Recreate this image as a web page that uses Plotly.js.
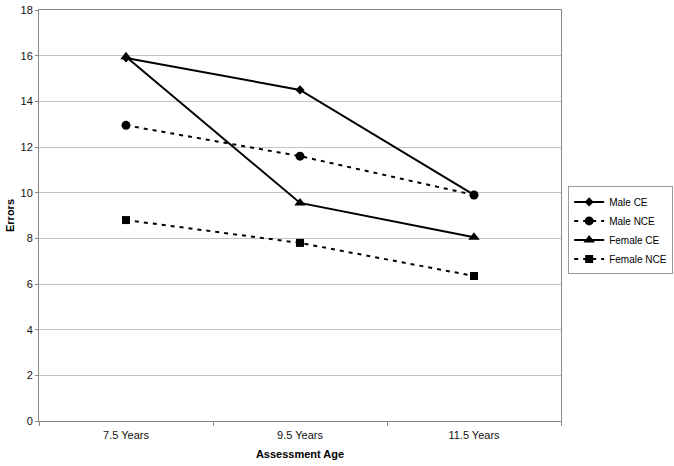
<!DOCTYPE html>
<html>
<head>
<meta charset="utf-8">
<script src="https://cdn.plot.ly/plotly-3.0.1.min.js"></script>
<style>html,body{margin:0;padding:0;background:#fff;}#chart{width:674px;height:466px;}</style>
</head>
<body>
<div id="chart"></div>
<script>
const categories = ["7.5 Years", "9.5 Years", "11.5 Years"];
const maleCE = [15.9, 14.5, 9.9];
const maleNCE = [12.95, 11.6, 9.9];
const femaleCE = [15.95, 9.55, 8.05];
const femaleNCE = [8.8, 7.8, 6.35];
const seriesNames = ["Male CE", "Male NCE", "Female CE", "Female NCE"];

const font = "Liberation Sans, Arial, sans-serif";
function tr(name, y, symbol, size, dash) {
  return {
    type: "scatter", mode: "lines+markers", name: name,
    x: categories, y: y,
    line: {color: "#000", width: 2, dash: dash},
    marker: {symbol: symbol, size: size, color: "#000"}
  };
}
const data = [
  tr(seriesNames[0], maleCE, "diamond", 7, "solid"),
  tr(seriesNames[1], maleNCE, "circle", 9, "4px,5px"),
  tr(seriesNames[2], femaleCE, "triangle-up", 10, "solid"),
  tr(seriesNames[3], femaleNCE, "square", 8, "4px,5px")
];
const layout = {
  width: 674, height: 466,
  margin: {l: 39, r: 113, t: 10, b: 45},
  paper_bgcolor: "#fff", plot_bgcolor: "#fff",
  font: {family: font, size: 11, color: "#000"},
  showlegend: true,
  legend: {xref: "container", yref: "container", x: 0.843, y: 0.6,
    xanchor: "left", yanchor: "top",
    itemwidth: 30,
    bordercolor: "#999", borderwidth: 1, bgcolor: "#fff",
    font: {family: font, size: 10, color: "#000"}, tracegroupgap: 0},
  xaxis: {
    type: "category", range: [-0.5, 2.5],
    tickson: "boundaries", ticks: "outside", ticklen: 4, tickcolor: "#888",
    ticklabelstandoff: 4,
    showline: true, linecolor: "#888", linewidth: 1, mirror: true,
    showgrid: false, zeroline: false,
    tickfont: {family: font, size: 11, color: "#111"},
    title: {text: "<b>Assessment Age</b>", standoff: 10, font: {family: font, size: 11, color: "#000"}}
  },
  yaxis: {
    range: [0, 18], dtick: 2, tick0: 0,
    ticks: "outside", ticklen: 3, tickcolor: "#888",
    showline: true, linecolor: "#888", linewidth: 1, mirror: true,
    showgrid: true, gridcolor: "#c4c4c4", gridwidth: 1, zeroline: false,
    tickfont: {family: font, size: 11, color: "#111"},
    title: {text: "<b>Errors</b>", standoff: 3, font: {family: font, size: 11, color: "#000"}}
  }
};
Plotly.newPlot("chart", data, layout, {displayModeBar: false, staticPlot: true});
</script>
</body>
</html>
